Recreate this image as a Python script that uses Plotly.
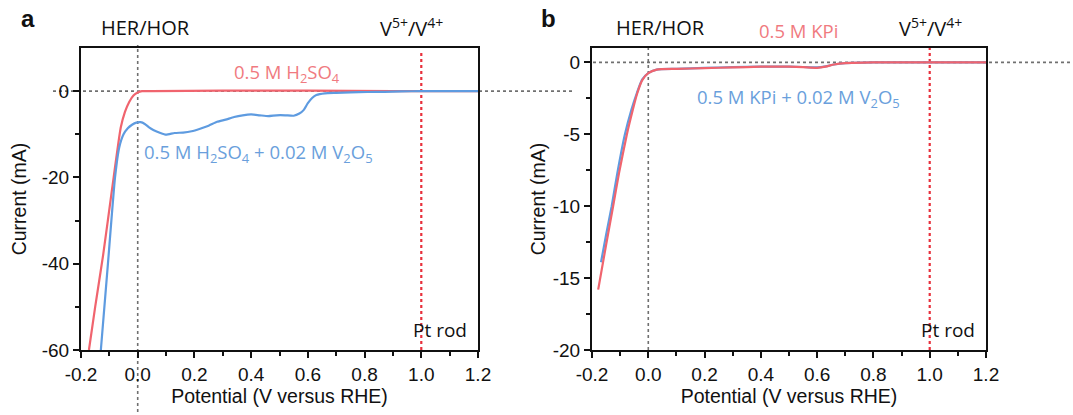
import plotly.graph_objects as go

# ---- Panel a: 0.5 M H2SO4 electrolyte ----
a_h2so4_v = [-0.172, -0.15, -0.122, -0.09, -0.06, -0.045, -0.03, -0.015, 0.0, 0.015, 0.05, 0.3, 0.6, 0.9, 1.2]
a_h2so4_i = [-60, -50, -38, -22.5, -8.5, -4.8, -2.5, -1.0, -0.3, 0.0, 0.0, 0.1, 0.1, 0.0, 0.0]

a_vana_v = [-0.13, -0.105, -0.08, -0.065, -0.05, -0.035, -0.02, -0.005, 0.01, 0.025, 0.04, 0.055, 0.08, 0.10, 0.13,
            0.16, 0.19, 0.22, 0.25, 0.28, 0.31, 0.34, 0.37, 0.40, 0.43, 0.46, 0.49, 0.52, 0.55, 0.57, 0.585,
            0.60, 0.615, 0.63, 0.66, 0.70, 0.75, 0.81, 0.87, 0.93, 1.0, 1.1, 1.2]
a_vana_i = [-60, -40, -20, -13, -10, -8.6, -7.8, -7.3, -7.2, -7.6, -8.4, -9.0, -9.7, -10.1, -9.7,
            -9.6, -9.3, -8.7, -8.0, -7.1, -6.6, -6.0, -5.6, -5.4, -5.6, -5.8, -5.6, -5.6, -5.7, -5.2, -4.4,
            -2.8, -1.6, -0.9, -0.5, -0.4, -0.3, -0.2, -0.15, -0.05, 0.0, 0.0, 0.0]

# ---- Panel b: 0.5 M KPi electrolyte ----
b_kpi_v = [-0.178, -0.15, -0.125, -0.104, -0.076, -0.055, -0.04, -0.022, 0.0, 0.03, 0.1, 0.2, 0.3, 0.4, 0.5,
           0.55, 0.6, 0.63, 0.66, 0.7, 0.8, 1.0, 1.2]
b_kpi_i = [-15.8, -12.7, -10.0, -7.7, -5.0, -3.3, -2.2, -1.25, -0.75, -0.5, -0.45, -0.4, -0.35, -0.3, -0.3,
           -0.33, -0.38, -0.3, -0.15, -0.05, 0.0, 0.0, 0.0]

b_vana_v = [-0.168, -0.15, -0.13, -0.11, -0.083, -0.06, -0.04, -0.022, 0.0, 0.03, 0.1, 0.2, 0.3, 0.4, 0.5,
            0.55, 0.6, 0.63, 0.66, 0.7, 0.8, 1.0, 1.2]
b_vana_i = [-13.9, -12.0, -10.0, -7.7, -5.0, -3.3, -2.1, -1.2, -0.75, -0.5, -0.45, -0.38, -0.33, -0.3, -0.3,
            -0.32, -0.35, -0.28, -0.15, -0.05, 0.0, 0.0, 0.0]

x_ticks = [-0.2, 0.0, 0.2, 0.4, 0.6, 0.8, 1.0, 1.2]
a_y_ticks = [-60, -40, -20, 0]
b_y_ticks = [-20, -15, -10, -5, 0]

RED = "#f0646e"
BLUE = "#5e9be0"
RED_TXT = "#f07a80"
BLUE_TXT = "#6a9fdc"
GRAY_DOT = "#707070"
RED_DOT = "#e8303c"

W, H = 1073, 415
def px(x):
    return x / W
def py(y):
    return 1 - y / H

fig = go.Figure()

line_kw = dict(width=2.2, shape="spline", smoothing=0.5)
fig.add_trace(go.Scatter(x=a_h2so4_v, y=a_h2so4_i, mode="lines", line=dict(color=RED, **line_kw),
                         xaxis="x", yaxis="y", showlegend=False))
fig.add_trace(go.Scatter(x=a_vana_v, y=a_vana_i, mode="lines", line=dict(color=BLUE, **line_kw),
                         xaxis="x", yaxis="y", showlegend=False))
fig.add_trace(go.Scatter(x=b_vana_v, y=b_vana_i, mode="lines", line=dict(color=BLUE, **line_kw),
                         xaxis="x2", yaxis="y2", showlegend=False))
fig.add_trace(go.Scatter(x=b_kpi_v, y=b_kpi_i, mode="lines", line=dict(color=RED, **line_kw),
                         xaxis="x2", yaxis="y2", showlegend=False))

tick_font = dict(family="Liberation Sans, Arial", size=19, color="#111")
title_font = dict(family="Liberation Sans, Arial", size=19.5, color="#111")

def hyphen(v, fmt):
    return format(v, fmt).replace("\u2212", "-")

def xaxis_cfg(domain, anchor):
    return dict(domain=domain, anchor=anchor, range=[-0.2, 1.2], tickvals=x_ticks,
                ticktext=[hyphen(v, ".1f") for v in x_ticks], ticks="outside", ticklen=6, tickwidth=1.5,
                tickcolor="#111",
                minor=dict(dtick=0.1, tick0=-0.2, ticks="outside", ticklen=4, tickwidth=1.5, tickcolor="#111"),
                showline=True, linecolor="#111", linewidth=2, mirror=True, showgrid=False, zeroline=False,
                tickfont=tick_font, automargin=False,
                title=dict(text="Potential (V versus RHE)", font=title_font, standoff=6),
                fixedrange=True)

def yaxis_cfg(domain, anchor, rng, ticks, minor_vals, standoff):
    return dict(domain=domain, anchor=anchor, range=rng, tickvals=ticks,
                ticktext=[hyphen(v, "d") for v in ticks],
                ticks="outside", ticklen=6, tickwidth=1.5, tickcolor="#111",
                minor=dict(tickvals=minor_vals, ticks="outside", ticklen=4, tickwidth=1.5, tickcolor="#111"),
                showline=True, linecolor="#111", linewidth=2, mirror=True, showgrid=False, zeroline=False,
                tickfont=tick_font, automargin=False,
                title=dict(text="Current (mA)", font=title_font, standoff=standoff),
                fixedrange=True)

fig.update_layout(
    width=W, height=H, margin=dict(l=0, r=0, t=0, b=0, autoexpand=False),
    paper_bgcolor="white", plot_bgcolor="white",
    xaxis=xaxis_cfg([px(81), px(478)], "y"),
    yaxis=yaxis_cfg([py(350), py(48)], "x", [-60, 10], a_y_ticks, [-50, -30, -10], 10),
    xaxis2=xaxis_cfg([px(592), px(986)], "y2"),
    yaxis2=yaxis_cfg([py(350), py(48)], "x2", [-20, 1], b_y_ticks, [-17.5, -12.5, -7.5, -2.5], 2),
)

dot_gray = dict(color=GRAY_DOT, width=1.6, dash="dot")
dot_red = dict(color=RED_DOT, width=2.2, dash="dot")
shapes = [
    # panel a reference lines
    dict(type="line", xref="paper", yref="y", x0=px(53), x1=px(575), y0=0, y1=0, line=dot_gray, layer="below"),
    dict(type="line", xref="x", yref="paper", x0=0, x1=0, y0=py(412), y1=py(45), line=dot_gray, layer="below"),
    dict(type="line", xref="x", yref="paper", x0=1.0, x1=1.0, y0=py(350), y1=py(53), line=dot_red, layer="below"),
    # panel b reference lines
    dict(type="line", xref="paper", yref="y2", x0=px(593), x1=1.0, y0=0, y1=0, line=dot_gray, layer="below"),
    dict(type="line", xref="x2", yref="paper", x0=0, x1=0, y0=py(350), y1=py(48), line=dot_gray, layer="below"),
    dict(type="line", xref="x2", yref="paper", x0=1.0, x1=1.0, y0=py(350), y1=py(48), line=dot_red, layer="below"),
]
fig.update_layout(shapes=shapes)

ann_font = "Open Sans, Noto Sans"
def txt(x, y, text, color="#111", size=18.5, bold=False, family=ann_font):
    fig.add_annotation(xref="paper", yref="paper", x=px(x), y=py(y), text=f"<b>{text}</b>" if bold else text,
                       showarrow=False, xanchor="center", yanchor="middle",
                       font=dict(family=family, size=size, color=color))

txt(28, 18, "a", size=24, bold=True, family="Liberation Sans, Arial")
txt(145, 28, "HER/HOR", size=20)
txt(411, 27, "V<sup>5+</sup>/V<sup>4+</sup>", size=20)
txt(287, 73, "0.5 M H<sub>2</sub>SO<sub>4</sub>", color=RED_TXT)
txt(258, 153, "0.5 M H<sub>2</sub>SO<sub>4</sub> + 0.02 M V<sub>2</sub>O<sub>5</sub>", color=BLUE_TXT)
txt(440, 330, "Pt rod", size=19)

txt(548, 18, "b", size=24, bold=True, family="Liberation Sans, Arial")
txt(660, 28, "HER/HOR", size=20)
txt(798, 30, "0.5 M KPi", color=RED_TXT)
txt(930, 27, "V<sup>5+</sup>/V<sup>4+</sup>", size=20)
txt(798, 98, "0.5 M KPi + 0.02 M V<sub>2</sub>O<sub>5</sub>", color=BLUE_TXT)
txt(948, 330, "Pt rod", size=19)

fig.write_html("out.html")
